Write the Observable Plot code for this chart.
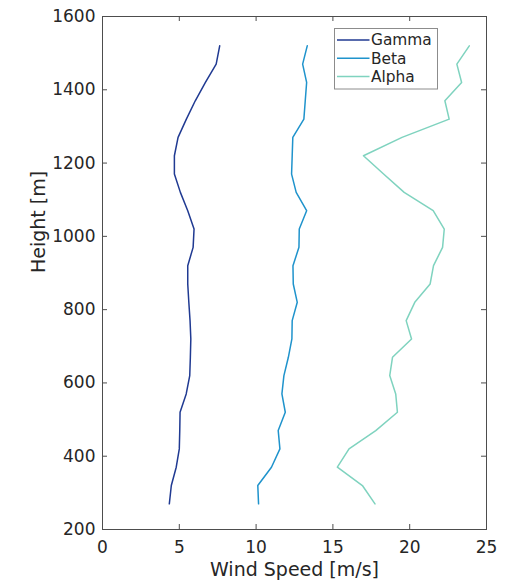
<!DOCTYPE html>
<html><head><meta charset="utf-8">
<script src="https://cdn.jsdelivr.net/npm/d3@7"></script>
<script src="https://cdn.jsdelivr.net/npm/@observablehq/plot@0.6"></script>
<style>html,body{margin:0;padding:0;background:#fff;} #chart svg{display:block}</style>
</head><body><div id="chart"></div>
<script>
const heights = [270,320,370,420,470,520,570,620,670,720,770,820,870,920,970,1020,1070,1120,1170,1220,1270,1320,1370,1420,1470,1520];
const gamma = [4.35,4.48,4.8,5.0,5.03,5.05,5.45,5.68,5.72,5.75,5.7,5.62,5.55,5.55,5.9,5.96,5.55,5.07,4.68,4.68,4.92,5.46,6.04,6.7,7.4,7.63];
const beta  = [10.16,10.11,11.0,11.55,11.44,11.9,11.68,11.81,12.1,12.33,12.35,12.68,12.42,12.4,12.79,12.81,13.29,12.61,12.31,12.35,12.39,13.11,13.2,13.29,13.03,13.33];
const alpha = [17.74,16.92,15.29,16.05,17.79,19.2,19.09,18.7,18.88,20.12,19.77,20.33,21.33,21.55,22.14,22.25,21.53,19.64,18.3,16.99,19.5,22.57,22.29,23.38,23.07,23.88];
const seriesNames = ["Gamma","Beta","Alpha"];
const seriesColors = ["#203a92","#1f93cc","#7fd3bf"];
const xTicks = [0,5,10,15,20,25];
const yTicks = [200,400,600,800,1000,1200,1400,1600];
const xLabel = "Wind Speed [m/s]";
const yLabel = "Height [m]";

const values = {Gamma: gamma, Beta: beta, Alpha: alpha};
const rows = seriesNames.flatMap(name => heights.map((h, i) => ({series: name, height: h, speed: values[name][i]})));

const W = 518, H = 582, mL = 102, mR = 32, mT = 16, mB = 53;
const pw = W - mL - mR, ph = H - mT - mB;
const tk = 5;
const axisColor = "#4d4d4d", textColor = "#262626";
const font = "DejaVu Sans";

const plot = Plot.plot({
  width: W, height: H, marginLeft: mL, marginRight: mR, marginTop: mT, marginBottom: mB,
  style: {fontFamily: font, background: "#fff", color: textColor},
  x: {domain: [0, 25]},
  y: {domain: [200, 1600]},
  color: {domain: seriesNames, range: seriesColors},
  marks: [
    Plot.frame({stroke: axisColor, strokeWidth: 1}),
    Plot.tickX(xTicks, {x: d => d, insetTop: ph - tk, stroke: axisColor}),
    Plot.tickX(xTicks, {x: d => d, insetBottom: ph - tk, stroke: axisColor}),
    Plot.tickY(yTicks, {y: d => d, insetRight: pw - tk, stroke: axisColor}),
    Plot.tickY(yTicks, {y: d => d, insetLeft: pw - tk, stroke: axisColor}),
    Plot.axisX(xTicks, {tickSize: 0, tickPadding: 11, fontSize: 17, label: null, fill: textColor, tickFormat: d => String(d)}),
    Plot.axisY(yTicks, {tickSize: 0, tickPadding: 7, fontSize: 17, label: null, fill: textColor, tickFormat: d => String(d)}),
    Plot.line(rows, {x: "speed", y: "height", z: "series", stroke: "series", strokeWidth: 1.5}),
    Plot.text([xLabel], {text: d => d, frameAnchor: "bottom", dy: 46, fontSize: 19, fill: textColor}),
    Plot.text([yLabel], {text: d => d, frameAnchor: "left", dx: -64, rotate: -90, fontSize: 19, fill: textColor})
  ]
});

document.getElementById("chart").appendChild(plot);

// Legend (inside the axes, top-right)
const svg = d3.select(plot);
const lg = svg.append("g").attr("font-family", font).attr("font-size", 15.4).attr("text-anchor", "start");
const lx = 334.5, ly = 28.5, lw = 103, lh = 60.5, rowH = 18.3;
lg.append("rect").attr("x", lx).attr("y", ly).attr("width", lw).attr("height", lh)
  .attr("fill", "#fff").attr("stroke", "#8c8c8c").attr("stroke-width", 1);
seriesNames.forEach((name, i) => {
  const yy = ly + 11.5 + i * rowH;
  lg.append("line").attr("x1", lx + 2.5).attr("x2", lx + 35).attr("y1", yy).attr("y2", yy)
    .attr("stroke", seriesColors[i]).attr("stroke-width", 1.5);
  lg.append("text").attr("x", lx + 36.5).attr("y", yy).attr("dy", "0.35em")
    .attr("text-anchor", "start").attr("fill", textColor).text(name);
});
</script>
</body></html>
